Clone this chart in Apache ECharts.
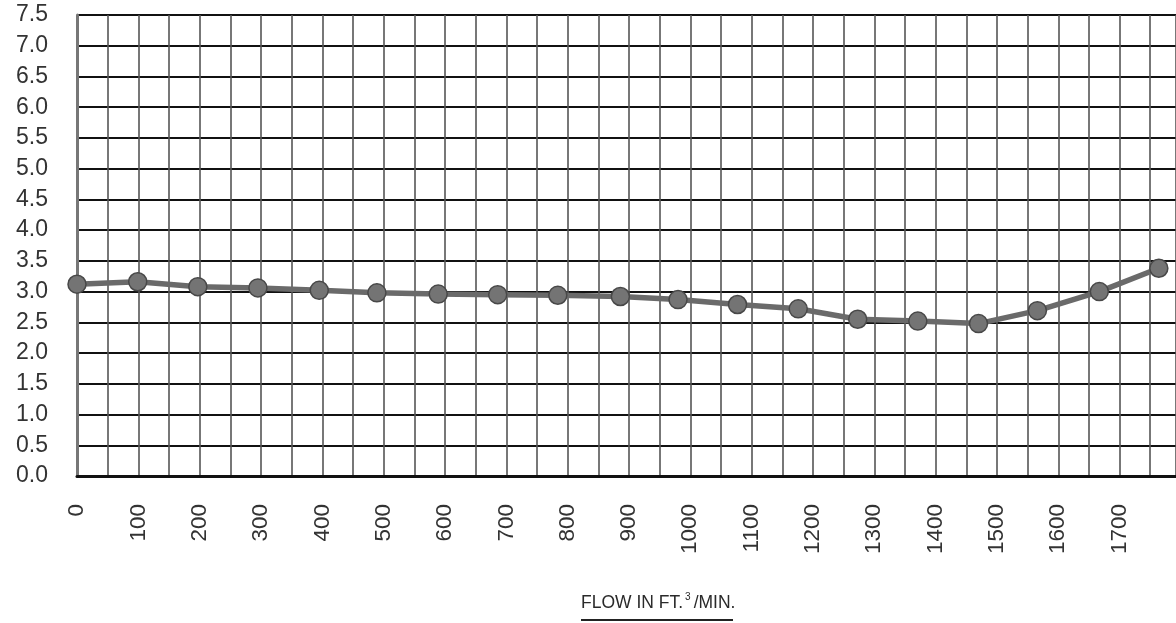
<!DOCTYPE html>
<html>
<head>
<meta charset="utf-8">
<script src="https://cdn.jsdelivr.net/npm/echarts@6/dist/echarts.min.js"></script>
<style>
html,body{margin:0;padding:0;background:#fff;}
#chart{width:1176px;height:623px;}
</style>
</head>
<body>
<div id="chart"></div>
<script>
var flow = [0, 99, 197, 295, 395, 489, 589, 686, 784, 886, 980, 1077, 1176, 1273, 1371, 1470, 1566, 1667, 1764];
var values = [3.12, 3.16, 3.08, 3.06, 3.02, 2.98, 2.96, 2.95, 2.94, 2.92, 2.87, 2.79, 2.72, 2.55, 2.52, 2.48, 2.69, 3.0, 3.38];
var xTickLabels = ['0','100','200','300','400','500','600','700','800','900','1000','1100','1200','1300','1400','1500','1600','1700'];
var yTickLabels = ['0.0','0.5','1.0','1.5','2.0','2.5','3.0','3.5','4.0','4.5','5.0','5.5','6.0','6.5','7.0','7.5'];

var chart = echarts.init(document.getElementById('chart'));
var labelFont = 'Liberation Sans, Arial, sans-serif';
chart.setOption({
  animation: false,
  backgroundColor: '#ffffff',
  grid: {left: 77, top: 15, right: -3, bottom: 147, containLabel: false},
  xAxis: {
    type: 'value',
    min: 0,
    max: 1792,
    interval: 50,
    axisLine: {show: true, lineStyle: {color: '#111', width: 3}},
    axisTick: {show: false},
    splitLine: {show: true, lineStyle: {color: '#555', width: 1.6}},
    axisLabel: {
      rotate: 90,
      margin: 28,
      fontFamily: labelFont,
      fontSize: 22.5,
      color: '#333',
      showMaxLabel: false,
      formatter: function (v) {
        var idx = xTickLabels.indexOf(String(Math.round(v)));
        return (Math.abs(v % 100) < 1e-6 && idx >= 0) ? xTickLabels[idx] : '';
      }
    }
  },
  yAxis: {
    type: 'value',
    min: 0,
    max: 7.5,
    interval: 0.5,
    axisLine: {show: true, lineStyle: {color: '#777', width: 3}},
    axisTick: {show: false},
    splitLine: {show: true, lineStyle: {color: '#111', width: 2}},
    axisLabel: {
      margin: 29,
      fontFamily: labelFont,
      fontSize: 23,
      color: '#333',
      formatter: function (v) {
        var i = Math.round(v / 0.5);
        return yTickLabels[i] !== undefined ? yTickLabels[i] : '';
      }
    }
  },
  graphic: [
    {
      type: 'text',
      left: 581,
      top: 592,
      style: {
        text: '{t|FLOW IN FT.}{s|3}{u|/MIN.}',
        rich: {
          t: {fontFamily: labelFont, fontSize: 17.5, fill: '#2a2a2a', verticalAlign: 'bottom', lineHeight: 20},
          s: {fontFamily: labelFont, fontSize: 10, fill: '#2a2a2a', verticalAlign: 'top', lineHeight: 20, padding: [0, 0, 8, 2]},
          u: {fontFamily: labelFont, fontSize: 17.5, fill: '#2a2a2a', verticalAlign: 'bottom', lineHeight: 20, padding: [0, 0, 0, 3]}
        }
      }
    },
    {
      type: 'line',
      shape: {x1: 581, y1: 620, x2: 733, y2: 620},
      style: {stroke: '#222', lineWidth: 2}
    }
  ],
  series: [{
    type: 'line',
    data: flow.map(function (x, i) { return [x, values[i]]; }),
    symbol: 'circle',
    symbolSize: 18,
    lineStyle: {color: '#6a6a6a', width: 5.5},
    itemStyle: {color: '#747474', borderColor: '#484848', borderWidth: 1.5},
    clip: false,
    z: 5
  }]
});
</script>
</body>
</html>
